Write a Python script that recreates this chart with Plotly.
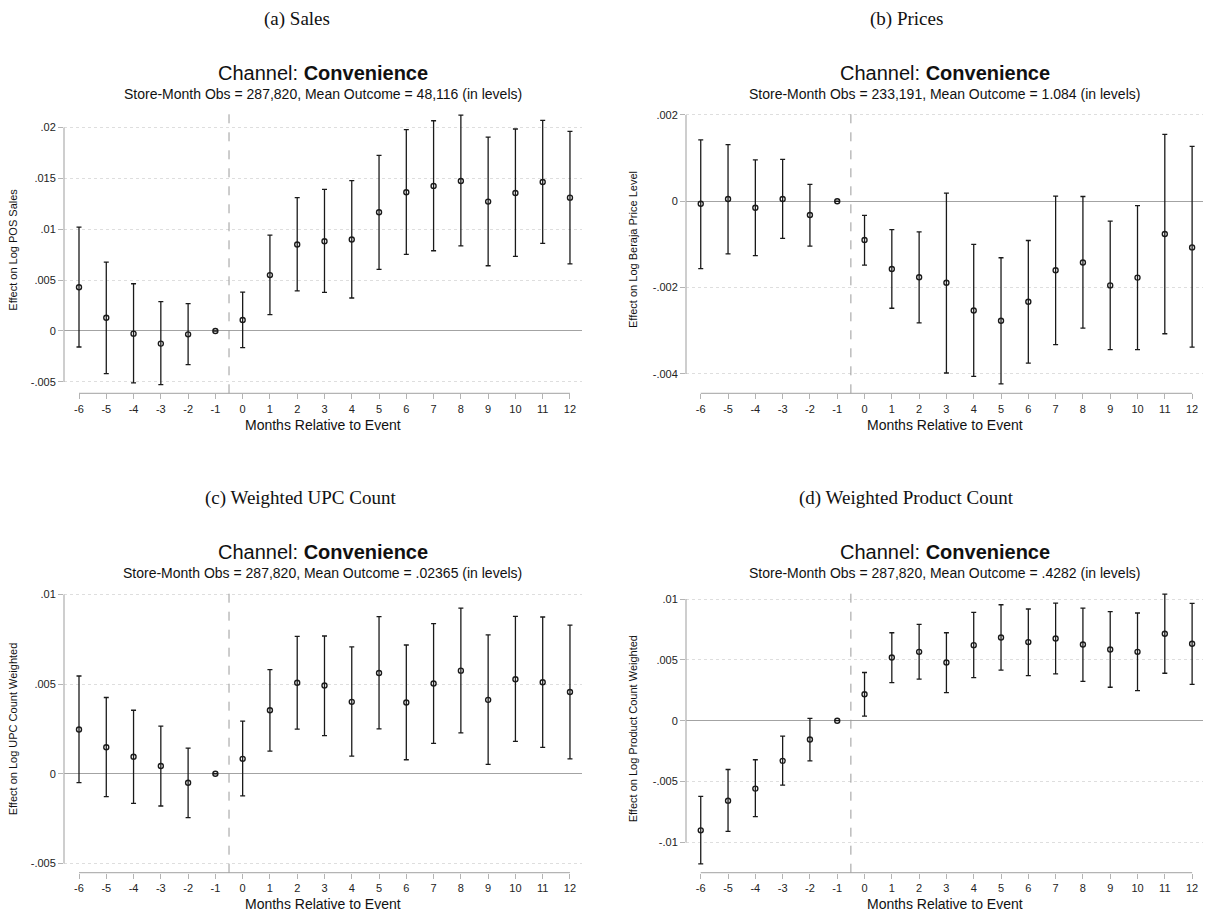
import plotly.graph_objects as go

W, H = 1211, 918

months = list(range(-6, 13))

sales_coef = [0.0043, 0.0013, -0.00026, -0.00124, -0.00033, 0, 0.00108, 0.00549, 0.0085, 0.00882, 0.00899, 0.01167, 0.01363, 0.01425, 0.01474, 0.01271, 0.01356, 0.01464, 0.0131]
sales_hi = [0.0102, 0.00676, 0.00464, 0.00288, 0.00268, 0, 0.00382, 0.00941, 0.0131, 0.01392, 0.01477, 0.01725, 0.01977, 0.02065, 0.02121, 0.01905, 0.01984, 0.02069, 0.01961]
sales_lo = [-0.00157, -0.00418, -0.0051, -0.00526, -0.0033, 0, -0.00163, 0.0016, 0.00395, 0.00379, 0.00324, 0.00605, 0.00752, 0.00788, 0.00837, 0.00641, 0.00732, 0.0086, 0.0066]

prices_coef = [-0.00006, 0.00005, -0.00015, 0.00005, -0.00032, 0, -0.0009, -0.00157, -0.00176, -0.00189, -0.00253, -0.00277, -0.00233, -0.0016, -0.00142, -0.00195, -0.00177, -0.00076, -0.00107]
prices_hi = [0.00142, 0.00131, 0.00096, 0.00097, 0.00039, 0, -0.00033, -0.00066, -0.00071, 0.00019, -0.001, -0.00131, -0.00091, 0.00012, 0.00011, -0.00046, -0.0001, 0.00155, 0.00127]
prices_lo = [-0.00156, -0.00122, -0.00126, -0.00086, -0.00104, 0, -0.00148, -0.00248, -0.00282, -0.00398, -0.00406, -0.00423, -0.00375, -0.00332, -0.00294, -0.00344, -0.00344, -0.00307, -0.00338]

upc_coef = [0.00247, 0.00148, 0.00095, 0.00043, -0.0005, 0, 0.00083, 0.00354, 0.00507, 0.00492, 0.00401, 0.00562, 0.00397, 0.00503, 0.00575, 0.00412, 0.00527, 0.0051, 0.00456]
upc_hi = [0.00545, 0.00425, 0.00354, 0.00265, 0.00143, 0, 0.00293, 0.00581, 0.00766, 0.00768, 0.00707, 0.00876, 0.00718, 0.00837, 0.00924, 0.00774, 0.00878, 0.00874, 0.00829]
upc_lo = [-0.0005, -0.00128, -0.00165, -0.0018, -0.00245, 0, -0.00124, 0.00126, 0.00249, 0.00213, 0.00098, 0.0025, 0.00078, 0.00169, 0.00228, 0.00052, 0.0018, 0.00147, 0.00083]

prod_coef = [-0.00901, -0.00657, -0.00558, -0.0033, -0.00154, 0, 0.00217, 0.00519, 0.00566, 0.00478, 0.00621, 0.00684, 0.00646, 0.00676, 0.00626, 0.00585, 0.00566, 0.00714, 0.00632]
prod_hi = [-0.00621, -0.00401, -0.00321, -0.00126, 0.00019, 0, 0.00396, 0.00723, 0.00791, 0.00723, 0.0089, 0.00953, 0.00918, 0.00967, 0.00926, 0.00896, 0.00885, 0.01041, 0.00964]
prod_lo = [-0.01176, -0.00909, -0.00788, -0.0053, -0.0033, 0, 0.00038, 0.00313, 0.00341, 0.00231, 0.00354, 0.00415, 0.00371, 0.00385, 0.00324, 0.00275, 0.00247, 0.0039, 0.00299]

panel_titles = ["(a) Sales", "(b) Prices", "(c) Weighted UPC Count", "(d) Weighted Product Count"]
subtitles = [
    "Store-Month Obs = 287,820, Mean Outcome = 48,116 (in levels)",
    "Store-Month Obs = 233,191, Mean Outcome = 1.084 (in levels)",
    "Store-Month Obs = 287,820, Mean Outcome = .02365 (in levels)",
    "Store-Month Obs = 287,820, Mean Outcome = .4282 (in levels)",
]
ytitles = ["Effect on Log POS Sales", "Effect on Log Beraja Price Level",
           "Effect on Log UPC Count Weighted", "Effect on Log Product Count Weighted"]

a_tickvals = [-0.005, 0, 0.005, 0.01, 0.015, 0.02]
a_ticktext = ["-.005", "0", ".005", ".01", ".015", ".02"]
b_tickvals = [-0.004, -0.002, 0, 0.002]
b_ticktext = ["-.004", "-.002", "0", ".002"]
c_tickvals = [-0.005, 0, 0.005, 0.01]
c_ticktext = ["-.005", "0", ".005", ".01"]
d_tickvals = [-0.01, -0.005, 0, 0.005, 0.01]
d_ticktext = ["-.01", "-.005", "0", ".005", ".01"]

data = [
    (sales_coef, sales_hi, sales_lo, a_tickvals, a_ticktext, [-0.00612, 0.0221]),
    (prices_coef, prices_hi, prices_lo, b_tickvals, b_ticktext, [-0.00445, 0.00219]),
    (upc_coef, upc_hi, upc_lo, c_tickvals, c_ticktext, [-0.00552, 0.01047]),
    (prod_coef, prod_hi, prod_lo, d_tickvals, d_ticktext, [-0.01249, 0.01107]),
]

# pixel layout of each plot region: (left, right, top, bottom)
regions = [
    (64, 581.7, 106, 393.3),
    (686, 1203.3, 106.7, 393.3),
    (64, 581.7, 586, 872.7),
    (686, 1203.3, 586, 872.7),
]
xranges = [[-6.55, 12.43], [-6.54, 12.41], [-6.55, 12.43], [-6.54, 12.41]]
panel_title_pos = [(297, 19), (906, 19), (300, 498), (906, 498)]

SANS = "Liberation Sans, Arial, sans-serif"
SERIF = "Liberation Serif, Times New Roman, serif"
AXIS_COL = "#b4b4b4"

fig = go.Figure()
annotations = []
shapes = []

def px2x(p):
    return p / W

def px2y(p):
    return 1 - p / H

for i, (coef, hi, lo, tv, tt, yr) in enumerate(data):
    n = "" if i == 0 else str(i + 1)
    xa, ya = "x" + n, "y" + n
    left, right, top, bottom = regions[i]
    err_up = [h - c for h, c in zip(hi, coef)]
    err_dn = [c - l for c, l in zip(coef, lo)]
    fig.add_trace(go.Scatter(
        x=months, y=coef, mode="markers", xaxis=xa, yaxis=ya, showlegend=False,
        marker=dict(symbol="circle-open", size=5, color="#1a1a1a", line=dict(width=1.4, color="#1a1a1a")),
        error_y=dict(type="data", symmetric=False, array=err_up, arrayminus=err_dn,
                     color="#1a1a1a", thickness=1.3, width=2.5),
        cliponaxis=False,
    ))
    fig.layout["xaxis" + n] = dict(
        domain=[px2x(left), px2x(right)], anchor=ya, range=xranges[i],
        tickmode="array", tickvals=months, ticktext=[str(m) for m in months],
        showgrid=False, zeroline=False, showline=False,
        ticks="outside", ticklen=5, tickwidth=1.2, tickcolor=AXIS_COL,
        tickfont=dict(family=SANS, size=11, color="#222"),
    )
    fig.layout["yaxis" + n] = dict(
        domain=[px2y(bottom), px2y(top)], anchor=xa, range=yr,
        tickmode="array", tickvals=tv, ticktext=tt,
        showgrid=True, gridcolor="#dedede", griddash="dot", gridwidth=1,
        zeroline=True, zerolinecolor="#a3a3a3", zerolinewidth=1.3,
        showline=False,
        ticks="outside", ticklen=5, tickwidth=1.2, tickcolor=AXIS_COL,
        tickfont=dict(family=SANS, size=11, color="#222"),
    )
    # axis lines spanning the tick range (Stata style)
    shapes.append(dict(type="line", xref=xa + " domain", yref=ya, x0=0, x1=0, y0=min(tv), y1=max(tv),
                       line=dict(color=AXIS_COL, width=1.3)))
    shapes.append(dict(type="line", xref=xa, yref=ya + " domain", x0=months[0], x1=months[-1], y0=0, y1=0,
                       line=dict(color=AXIS_COL, width=1.3)))
    # event line
    shapes.append(dict(type="line", xref=xa, yref=ya + " domain", x0=-0.5, x1=-0.5, y0=0, y1=1,
                       line=dict(color="#9a9a9a", width=1, dash="dash")))

    cx = (left + right) / 2
    cy = (top + bottom) / 2
    row_off = 0 if i < 2 else 479.4
    annotations.append(dict(text=panel_titles[i], x=px2x(panel_title_pos[i][0]), y=px2y(panel_title_pos[i][1]),
                            xref="paper", yref="paper", xanchor="center", yanchor="middle", showarrow=False,
                            font=dict(family=SERIF, size=19, color="#111")))
    annotations.append(dict(text="Channel: <b>Convenience</b>", x=px2x(cx), y=px2y(72.7 + row_off),
                            xref="paper", yref="paper", xanchor="center", yanchor="middle", showarrow=False,
                            font=dict(family=SANS, size=20, color="#111")))
    annotations.append(dict(text=subtitles[i], x=px2x(cx), y=px2y(93.5 + row_off),
                            xref="paper", yref="paper", xanchor="center", yanchor="middle", showarrow=False,
                            font=dict(family=SANS, size=14, color="#111")))
    annotations.append(dict(text=ytitles[i], x=px2x(13 if i % 2 == 0 else 633), y=px2y(cy),
                            xref="paper", yref="paper", xanchor="center", yanchor="middle", showarrow=False,
                            textangle=-90, font=dict(family=SANS, size=11, color="#111")))
    annotations.append(dict(text="Months Relative to Event", x=px2x(cx), y=px2y(425 + row_off),
                            xref="paper", yref="paper", xanchor="center", yanchor="middle", showarrow=False,
                            font=dict(family=SANS, size=14, color="#111")))

fig.update_layout(
    width=W, height=H, margin=dict(l=0, r=0, t=0, b=0),
    paper_bgcolor="white", plot_bgcolor="white",
    annotations=annotations, shapes=shapes,
)

fig.write_html("out.html", config={"displayModeBar": False},
               post_script="document.body.style.margin='0';document.body.style.overflow='hidden';")
